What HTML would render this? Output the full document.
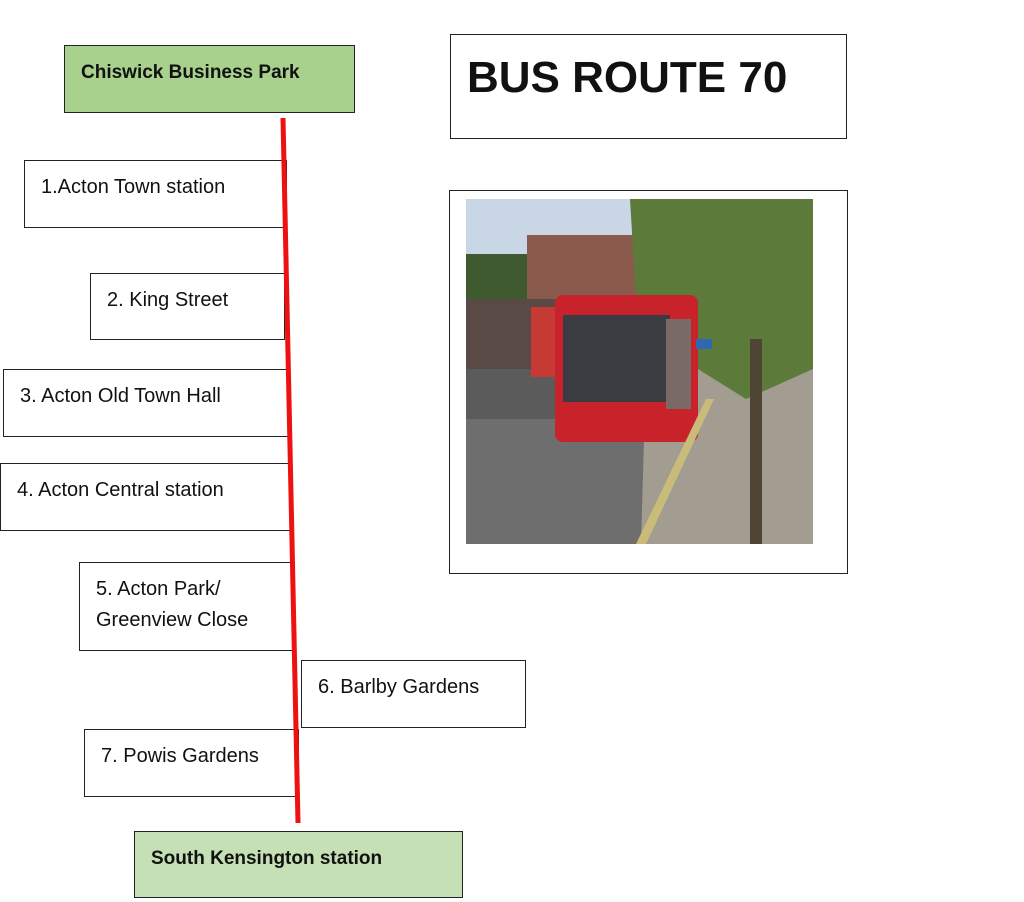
<!DOCTYPE html>
<html><head><meta charset="utf-8"><style>
body{margin:0;width:1024px;height:902px;background:#fff;position:relative;overflow:hidden;font-family:"Liberation Sans",sans-serif;}
.b{position:absolute;border:1.5px solid #222;box-sizing:border-box;background:#fff;font-size:20px;color:#111;padding-left:16px;padding-top:11px;line-height:31px;}
.g{background:#c5e0b4;font-weight:bold;font-size:19px;}
</style></head><body>
<div class="b g" style="left:64px;top:45px;width:291px;height:68px;background:#a9d18e;">Chiswick Business Park</div>
<div class="b" style="left:450px;top:34px;width:397px;height:105px;font-weight:bold;font-size:44px;line-height:50px;padding-top:18px;">BUS ROUTE 70</div>
<div class="b" style="left:449px;top:190px;width:399px;height:384px;"></div>
<svg style="position:absolute;left:466px;top:199px" width="347" height="345" viewBox="0 0 347 345">
<rect width="347" height="345" fill="#6e6e6e"/>
<rect width="180" height="100" fill="#c9d6e6"/>
<rect x="0" y="55" width="70" height="60" fill="#3f5a2f"/>
<rect x="61" y="36" width="115" height="64" fill="#8a5a4c"/>
<rect x="0" y="100" width="100" height="70" fill="#5a4a45"/>
<polygon points="180,170 347,140 347,345 175,345" fill="#a39c90"/>
<polygon points="164,0 347,0 347,170 280,200 200,150 170,100" fill="#5c7a3a"/>
<rect x="0" y="170" width="90" height="50" fill="#5b5b5b"/>
<rect x="65" y="108" width="30" height="70" fill="#c73a34"/>
<rect x="89" y="96" width="143" height="147" rx="8" fill="#c8222b"/>
<rect x="97" y="116" width="107" height="87" fill="#3a3c42"/>
<rect x="200" y="120" width="25" height="90" fill="#7a6a66"/>
<rect x="284" y="140" width="12" height="205" fill="#4e4535"/>
<rect x="230" y="140" width="16" height="10" fill="#2f67b0"/>
<polygon points="170,345 240,200 248,200 180,345" fill="#c9bb7a"/>
</svg>
<div class="b" style="left:24px;top:160px;width:263px;height:68px;">1.Acton Town station</div>
<div class="b" style="left:90px;top:273px;width:195px;height:67px;">2. King Street</div>
<div class="b" style="left:3px;top:369px;width:286px;height:68px;">3. Acton Old Town Hall</div>
<div class="b" style="left:0px;top:463px;width:292px;height:68px;">4. Acton Central station</div>
<div class="b" style="left:79px;top:562px;width:214px;height:89px;">5. Acton Park/<br>Greenview Close</div>
<div class="b" style="left:301px;top:660px;width:225px;height:68px;">6. Barlby Gardens</div>
<div class="b" style="left:84px;top:729px;width:215px;height:68px;">7. Powis Gardens</div>
<div class="b g" style="left:134px;top:831px;width:329px;height:67px;">South Kensington station</div>
<svg style="position:absolute;left:0;top:0" width="1024" height="902"><line x1="283" y1="118" x2="298" y2="823" stroke="#ee1111" stroke-width="5"/></svg>
</body></html>
